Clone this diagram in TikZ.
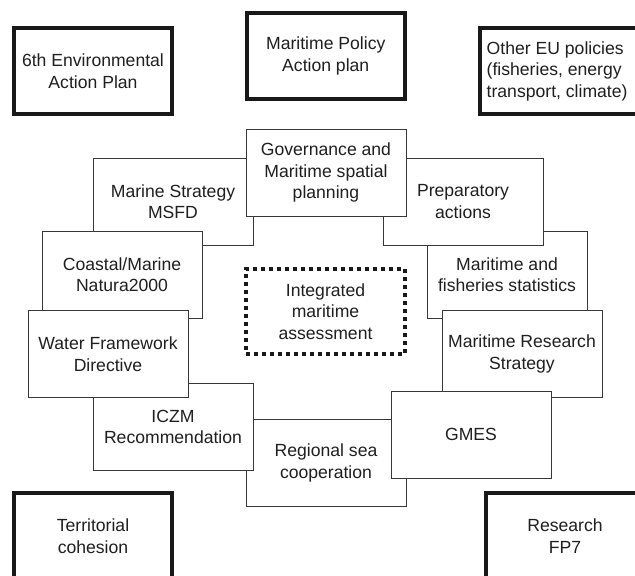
\documentclass[tikz,border=0pt]{standalone}
\usepackage{fontspec}
\setmainfont{Liberation Sans}
\begin{document}
\begin{tikzpicture}[x=1pt,y=-1pt,
  every node/.style={font=\fontsize{17.6}{21.5}\selectfont, text=black!88, align=center, inner sep=0pt},
  thinbox/.style={draw=black!78, line width=1pt, fill=white, minimum width=160pt, minimum height=87pt},
  thickbox/.style={draw=black!90, line width=4pt, fill=white, minimum width=158pt, minimum height=86pt},
  dotbox/.style={draw=black!90, line width=3.6pt, dash pattern=on 4pt off 4pt, minimum width=159pt, minimum height=85pt}]
\useasboundingbox (0,0) rectangle (635,576);
% outer thick boxes
\node[thickbox] (env) at (93,71) {6th Environmental\\Action Plan};
\node[thickbox] (mpa) at (325.75,56) {Maritime Policy\\Action plan};
\node[thickbox, align=left] (oeu) at (558.5,71) {};
\node[anchor=west, align=left] (oeut) at (486.5,71) {Other EU policies\\(fisheries, energy\\transport, climate)};
\node[thickbox] (ter) at (93,536) {Territorial\\cohesion};
\node[thickbox] (fp7) at (565,536) {Research\\FP7};
% inner ring, bottom to top
\node[thinbox] (msfd) at (173,201.5) {Marine Strategy\\MSFD};
\node[thinbox] (stat) at (507,274.5) {Maritime and\\fisheries statistics};
\node[thinbox] (reg) at (326,463) {Regional sea\\cooperation};
\node[thinbox] (coast) at (122,274.5) {Coastal/Marine\\Natura2000};
\node[thinbox] (prep) at (463,201.5) {Preparatory\\actions};
\node[thinbox] (mrs) at (522,354) {Maritime Research\\Strategy};
\node[thinbox] (iczm) at (173,427) {ICZM\\Recommendation};
\node[thinbox] (gov) at (326,172.5) {Governance and\\Maritime spatial\\planning};
\node[thinbox] (wfd) at (108,354) {Water Framework\\Directive};
\node[thinbox] (gmes) at (471,434.5) {GMES};
% centre
\node[dotbox] (ima) at (325.5,311.5) {Integrated\\maritime\\assessment};
\end{tikzpicture}
\end{document}
